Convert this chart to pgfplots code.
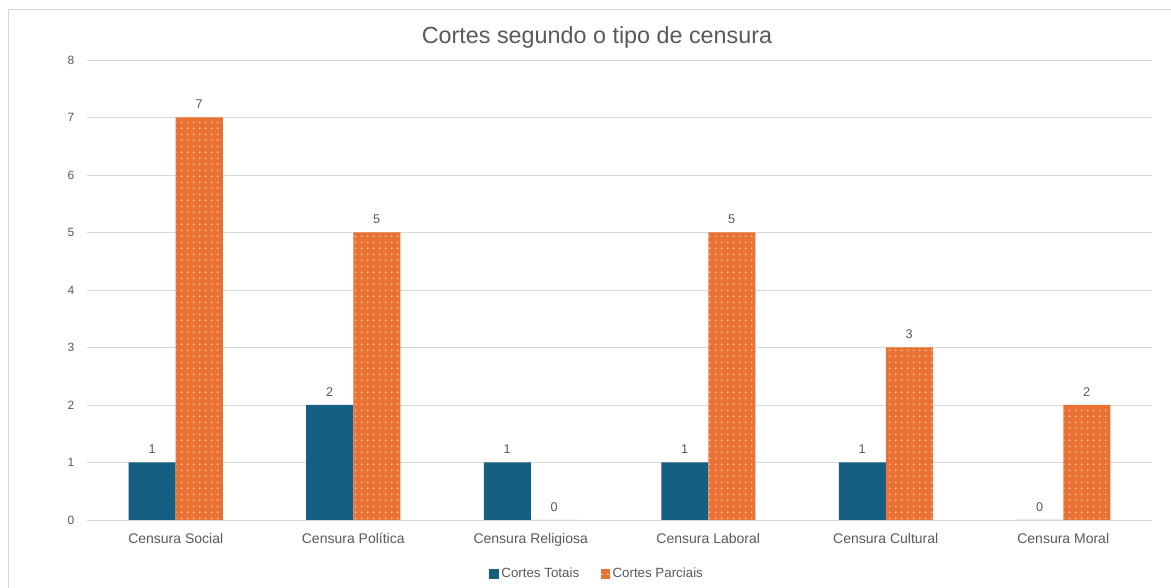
\documentclass[border=0pt]{standalone}
\usepackage{pgfplots}
\pgfplotsset{compat=1.18}
\usepackage{fontspec}
\setmainfont{Liberation Sans}
\usetikzlibrary{patterns.meta}
\definecolor{cteal}{HTML}{156082}
\definecolor{corange}{HTML}{E97132}
\definecolor{ctext}{HTML}{595959}
\definecolor{cgrid}{HTML}{D9D9D9}
\pgfdeclarepattern{
  name=mydots,
  type=uncolored,
  bottom left={\pgfpoint{0pt}{0pt}},
  top right={\pgfpoint{4.2pt}{4.2pt}},
  tile size={\pgfpoint{4.2pt}{4.2pt}},
  code={\pgfpathrectangle{\pgfpoint{1.6pt}{1.6pt}}{\pgfpoint{1.1pt}{1.1pt}}\pgfusepath{fill}}
}
\begin{document}
\begin{tikzpicture}[x=0.75pt,y=0.75pt]
\useasboundingbox (-87,-68) rectangle (1084,520);
\draw[cgrid] (-79,-70) -- (-79,511) -- (1090,511);
\begin{axis}[
  at={(0,0)}, anchor=south west,
  scale only axis,
  width=798.75pt, height=345pt,
  ybar=0pt, bar width=35.25pt,
  xmin=-0.5, xmax=5.5, ymin=0, ymax=8,
  xtick={0,...,5},
  xticklabels={Censura Social,Censura Política,Censura Religiosa,Censura Laboral,Censura Cultural,Censura Moral},
  ytick={0,...,8},
  ymajorgrids, grid style={cgrid, line width=0.6pt},
  axis line style={draw=none},
  axis x line*=bottom,
  x axis line style={draw=cgrid, line width=0.6pt},
  y axis line style={draw=none},
  major tick length=0pt,
  tick style={draw=none},
  yticklabel style={font=\fontsize{9}{10}\selectfont, text=ctext, xshift=-6pt},
  xticklabel style={font=\fontsize{10.5}{12}\selectfont, text=ctext, yshift=-6pt, text height=8pt, text depth=2.5pt},
  /pgf/number format/assume math mode=true,
  nodes near coords,
  every node near coord/.append style={font=\fontsize{9.5}{11}\selectfont, text=ctext, yshift=3pt},
  legend style={at={(axis description cs:0.5,0)}, anchor=center, xshift=-16.5pt, yshift=-40.5pt, draw=none, fill=none,
    legend columns=2, font=\fontsize{10}{12}\selectfont, text=ctext,
    /tikz/every even column/.append style={column sep=14pt}},
  legend image code/.code={\fill[#1] (0pt,-3.5pt) rectangle (7pt,3.5pt);},
  clip=false,
]
\addplot[fill=cteal, draw=none] coordinates {(0,1) (1,2) (2,1) (3,1) (4,1) (5,0)};
\addplot[fill=corange, draw=none, postaction={pattern={mydots}, pattern color=white!60!corange}] coordinates {(0,7) (1,5) (2,0) (3,5) (4,3) (5,2)};
\legend{Cortes Totais, Cortes Parciais}
\end{axis}
\node[font=\fontsize{17.5}{20}\selectfont, text=ctext] at (510,483) {Cortes segundo o tipo de censura};
\end{tikzpicture}
\end{document}
